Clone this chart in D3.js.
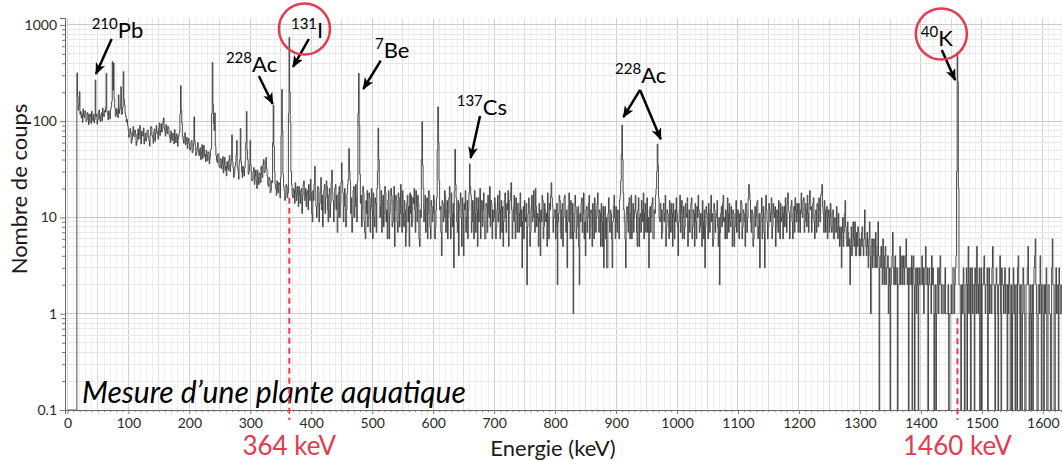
<!DOCTYPE html>
<html><head><meta charset="utf-8">
<script src="https://cdn.jsdelivr.net/npm/d3@7"></script>
<style>
html,body{margin:0;padding:0;background:#fff;}
svg{display:block;font-family:Lato,"Open Sans",sans-serif;}
</style></head><body>
<svg id="chart" width="1062" height="461"></svg>
<script>
// Gamma spectrum, counts per 1 keV channel, channel 0 centred on 0 keV
const channelWidthKeV = 1;
const counts000 = [0,0,0,0,0,0,0,0,0,0,0,0,0,0,0,0,
  317,180,130,145,202,118,126,108,118,97,134,115,109,128,121,99,104,123,117,92,
  98,119,113,95,127,108,101,118,96,104,268,112,118,93,104,122,131,106,99,115,
  122,101,137,118,112,129,124,140,314,126,119,103,128,117,106,132,141,160,415,210,
  402,170,138,112,117,135,126,109,188,121,132,145,228,118,119,140,327,168,147,121,
  112,98,104,90];
const counts100 = [82,68,71,84,76,59,64,77,88,70,69,81,74,56,61,73,83,65,72,90,
  66,58,79,71,70,85,58,66,75,62,67,80,81,69,63,55,72,88,86,71,
  68,59,77,83,62,74,90,79,74,65,84,96,71,80,94,77,83,99,108,85,
  79,70,92,81,74,88,86,72,68,60,79,66,63,75,73,58,82,69,60,74,
  71,55,66,72,78,120,234,130,96,70,64,59,70,76,57,63,68,52,61,66];
const counts200 = [58,50,52,61,63,47,49,58,111,62,55,44,47,53,60,49,44,51,53,40,
  48,57,41,46,56,43,45,38,50,44,39,48,47,36,42,50,52,120,409,150,
  95,80,122,55,44,39,37,46,45,34,33,41,40,32,36,43,29,35,42,31,
  34,27,38,33,31,39,44,30,35,40,72,38,33,26,28,34,37,45,63,33,
  31,25,36,40,84,38,30,26,34,29,27,33,38,60,126,50,40,28,30,35];
const counts300 = [63,35,29,24,25,30,33,22,27,31,24,20,31,26,22,29,28,23,34,28,
  26,36,40,29,30,38,42,32,27,22,21,26,25,18,19,24,23,60,147,55,
  30,22,20,17,24,19,18,23,22,16,26,70,214,80,28,21,19,15,17,22,
  21,16,18,120,743,200,96,30,22,17,16,20,19,14,23,18,15,21,18,13,
  21,17,14,19,20,11,17,22,24,15,16,20,13,18,19,12,22,17,15,25];
const counts400 = [18,11,9,19,15,22,34,19,13,10,13,21,20,9,14,18,26,12,17,8,
  12,19,22,11,16,24,21,12,9,17,20,10,14,23,31,18,15,9,13,20,
  22,12,17,7,10,18,21,10,14,23,37,24,18,9,13,20,17,8,12,18,
  22,25,52,30,24,11,16,7,10,19,21,10,13,22,16,9,24,120,314,90,
  28,14,17,8,12,21,18,9,7,6,15,11,19,8,10,18,16,7,13,20];
const counts500 = [12,6,18,10,8,16,14,7,20,30,85,40,22,10,13,19,7,15,17,8,
  11,21,18,9,12,6,15,19,6,11,14,20,17,8,9,15,21,5,12,17,
  15,9,7,18,16,8,11,22,13,7,19,11,8,15,12,5,7,14,17,9,
  13,5,18,11,17,8,9,16,14,20,12,7,19,13,9,17,14,6,5,12,
  10,40,99,35,20,9,12,17,7,14,16,6,11,19,17,8,6,15,13,9];
const counts600 = [11,17,15,6,8,12,16,50,141,60,24,12,13,7,4,15,14,9,10,19,
  17,7,12,15,6,11,16,21,10,6,18,11,8,14,3,19,51,22,16,9,
  7,15,4,12,14,18,10,5,16,11,4,14,12,19,7,10,15,6,12,18,
  36,21,17,7,9,15,13,6,19,11,7,16,12,5,16,9,11,20,6,12,
  15,8,12,18,9,6,6,14,13,7,17,11,10,21,8,15,14,6,12,9];
const counts700 = [10,16,14,6,8,12,17,9,11,19,6,12,15,7,13,5,9,15,18,10,
  7,14,12,19,5,11,15,18,23,12,6,9,13,17,9,6,16,11,7,14,
  14,7,11,18,8,12,3,9,13,6,15,10,9,14,2,8,11,16,13,5,
  7,12,17,9,10,19,12,7,20,13,8,11,10,5,14,9,4,12,9,17,
  15,6,8,14,12,9,11,5,18,10,6,14,12,17,23,16,13,7,10,12];
const counts800 = [12,6,8,14,2,9,11,17,15,7,6,12,14,5,10,16,17,10,7,12,
  3,9,13,18,9,6,15,11,6,14,1,7,11,17,13,6,8,12,13,5,
  2,11,9,14,16,7,11,18,6,9,4,12,13,7,10,14,17,6,8,12,
  11,5,14,9,6,16,12,7,10,14,18,10,7,12,11,5,14,9,5,13,
  3,11,13,6,10,3,3,11,16,9,7,12,11,6,3,9,13,17,10,6];
const counts900 = [13,9,7,12,11,6,15,17,24,45,91,40,18,12,9,6,3,11,13,9,
  7,14,16,6,11,17,6,9,14,7,10,12,17,11,7,5,12,16,5,10,
  11,7,15,12,9,18,6,11,14,7,11,16,7,10,3,12,13,7,10,14,
  16,6,6,12,11,17,20,30,58,35,16,10,9,14,12,6,7,12,14,9,
  11,17,5,8,12,11,9,6,15,12,7,14,11,5,14,10,6,12,9,16];
const counts1000 = [11,8,4,9,12,17,7,11,15,6,10,13,6,8,14,11,10,16,5,9,
  12,7,10,14,16,6,8,12,11,5,14,9,6,13,10,17,12,7,8,11,
  11,5,15,9,6,12,3,8,13,11,10,6,14,11,7,12,17,9,11,5,
  6,14,12,7,10,11,15,8,5,10,2,7,11,13,8,14,17,9,10,6,
  12,11,6,16,11,7,14,9,8,13,10,5,12,11,5,8,11,15,7,10];
const counts1100 = [12,7,6,11,9,15,14,6,8,12,11,9,5,14,12,7,10,16,22,18,
  15,9,7,12,11,5,6,11,13,8,10,14,15,6,8,11,3,9,11,16,
  6,10,13,7,3,11,17,12,9,6,8,14,12,9,11,16,6,8,14,11,
  10,13,5,8,12,9,7,15,11,6,14,9,10,13,6,11,13,8,16,11,
  7,14,18,12,11,6,10,13,15,9,6,11,13,7,16,12,9,14,11,7];
const counts1200 = [14,9,7,12,18,11,10,15,16,7,9,14,12,8,17,11,7,14,19,12,
  13,7,10,14,16,9,6,11,12,7,14,13,8,16,12,9,17,18,22,13,
  11,7,15,12,7,11,13,6,10,12,7,10,14,8,7,11,12,6,6,10,
  9,7,13,8,6,11,8,5,6,8,3,7,10,5,7,11,15,8,6,5,
  9,7,5,6,2,5,8,4,5,9,6,5,9,4,4,7,5,8,7,4];
const counts1300 = [6,4,5,7,8,5,4,6,12,6,5,4,7,5,3,6,9,4,1,5,
  6,3,4,6,5,3,7,4,3,5,9,4,0,3,4,5,3,2,6,3,
  2,4,5,2,3,3,4,1,2,3,0,2,3,4,7,3,2,3,4,2,
  3,3,0,2,2,3,5,2,3,4,2,3,4,2,3,4,6,3,2,3,
  0,2,3,3,2,4,0,3,4,2,0,2,3,1,2,3,0,2,3,2];
const counts1400 = [2,3,4,2,3,1,2,3,5,2,2,3,0,2,3,2,2,1,4,2,
  3,2,0,1,2,0,1,2,3,1,2,3,4,2,1,2,2,1,1,2,
  3,1,1,1,1,2,0,0,1,1,2,1,1,3,3,1,2,3,4,30,
  520,255,20,2,2,1,0,2,1,2,3,1,0,2,2,3,0,2,5,1,
  2,3,0,2,3,1,2,2,0,3,2,1,5,2,1,2,3,0,2,3];
const counts1500 = [0,2,2,3,4,2,1,2,2,3,0,2,3,1,2,2,1,3,5,2,
  2,1,0,2,3,2,1,0,2,2,4,1,0,3,2,2,1,2,3,1,
  2,2,0,2,1,3,2,0,0,2,0,1,3,2,1,0,2,2,0,3,
  4,2,1,0,2,2,0,1,3,2,1,0,0,2,2,3,5,2,0,1,
  2,0,1,2,0,2,3,4,6,2,1,0,0,2,2,1,4,2,0,2];
const counts1600 = [2,1,0,2,1,2,3,0,0,2,2,1,1,0,0,3,6,2,2,0,0,2,3,1,1,2,0,3,2,1,1,2];
const counts = [].concat(counts000, counts100, counts200, counts300, counts400, counts500,
  counts600, counts700, counts800, counts900, counts1000, counts1100, counts1200,
  counts1300, counts1400, counts1500, counts1600);

const xTickValues = d3.range(0, 1601, 100);
const yTickValues = [0.1, 1, 10, 100, 1000];
const yTickLabels = ["0.1", "1", "10", "100", "1000"];

// Highlighted lines: energy, counts level where the dashed line starts, caption
const markerEnergies = [364, 1460];
const markerTops = [16, 0.9];
const markerLabels = ["364 keV", "1460 keV"];

// Nuclide labels: mass number, symbol, label anchor (keV, counts), arrows (from -> to)
const nuclides = [
  {mass: "210", sym: "Pb", at: [39.7, 731], arrows: [[[72.5, 714], [46.8, 309]]]},
  {mass: "228", sym: "Ac", at: [260, 324], arrows: [[[314, 295], [336.7, 151]]]},
  {mass: "131", sym: "I",  at: [366.7, 731], arrows: [[[396, 714], [370, 366]]]},
  {mass: "7",   sym: "Be", at: [504.5, 453], arrows: [[[513.9, 425], [485.3, 216]]]},
  {mass: "137", sym: "Cs", at: [638.6, 116], arrows: [[[676.8, 113], [661.5, 41.5]]]},
  {mass: "228", sym: "Ac", at: [898.3, 249], arrows: [[[939.3, 211], [912, 110]], [[939.3, 211], [973.3, 64.9]]]},
  {mass: "40",  sym: "K",  at: [1399.8, 604], arrows: [[[1434.3, 549], [1456.1, 268]]]}
];
// Circled nuclides: centre (keV, counts)
const circled = [[388.8, 907], [1433.6, 805]];

const plot = {left: 65, right: 1062, top: 18, bottom: 410};
const red = "#e63a4f";

const svg = d3.select("#chart");
const x = d3.scaleLinear().domain([-4, 1631.5]).range([plot.left, plot.right]);
const y = d3.scaleLog().domain([0.1, 1180]).range([plot.bottom, plot.top]);

// Grid
const grid = svg.append("g");
d3.range(0, 1631, 10).forEach(e => {
  const col = e % 100 === 0 ? "#cfcfcf" : (e % 50 === 0 ? "#dcdcdc" : "#efefef");
  grid.append("line").attr("x1", x(e)).attr("x2", x(e))
    .attr("y1", plot.top).attr("y2", plot.bottom)
    .attr("stroke", col).attr("stroke-width", 1).attr("shape-rendering", "crispEdges");
});
const minorY = [];
[0.1, 1, 10, 100, 1000].forEach(d => { for (let k = 2; k <= 9; k++) if (d * k < 1180) minorY.push(d * k); });
minorY.forEach(v => grid.append("line").attr("x1", plot.left).attr("x2", plot.right)
  .attr("y1", y(v)).attr("y2", y(v)).attr("stroke", "#e8e8e8").attr("shape-rendering", "crispEdges"));
yTickValues.forEach(v => grid.append("line").attr("x1", plot.left).attr("x2", plot.right)
  .attr("y1", y(v)).attr("y2", y(v)).attr("stroke", "#cccccc").attr("shape-rendering", "crispEdges"));

// Spectrum (histogram steps; empty channels sit on the lower edge)
const pts = counts.map((c, i) => ({e: i * channelWidthKeV, c}));
const line = d3.line()
  .x(d => x(d.e))
  .y(d => d.c > 0 ? y(d.c) : y(0.1))
  .curve(d3.curveStep);
svg.append("path").datum(pts).attr("d", line)
  .attr("fill", "none").attr("stroke", "#3a3a3a").attr("stroke-width", 0.9);

// Axes
const axL = svg.append("g").attr("transform", `translate(${plot.left},0)`)
  .call(d3.axisLeft(y).tickValues(yTickValues).tickFormat((d, i) => yTickLabels[i]).tickSize(5).tickPadding(3));
svg.append("g").attr("transform", `translate(${plot.left},0)`)
  .call(d3.axisLeft(y).tickValues(minorY).tickFormat("").tickSize(3))
  .call(g => g.select(".domain").remove());
const axB = svg.append("g").attr("transform", `translate(0,${plot.bottom})`)
  .call(d3.axisBottom(x).tickValues(xTickValues).tickFormat(d3.format("d")).tickSize(4).tickPadding(4));
svg.append("g").attr("transform", `translate(0,${plot.bottom})`)
  .call(d3.axisBottom(x).tickValues(d3.range(0, 1631, 10).filter(e => e % 100)).tickFormat("").tickSize(2))
  .call(g => g.select(".domain").remove());
svg.selectAll(".domain").attr("stroke", "#666");
svg.selectAll(".tick line").attr("stroke", "#777");
axL.selectAll("text").attr("font-size", 14).attr("fill", "#2a2a2a").attr("font-family", "Lato");
axB.selectAll("text").attr("font-size", 14).attr("fill", "#2a2a2a").attr("font-family", "Lato");

// Axis titles
svg.append("text").attr("x", 553).attr("y", 456).attr("text-anchor", "middle")
  .attr("font-size", 22).attr("fill", "#1a1a1a").text("Energie (keV)");
svg.append("text").attr("transform", "translate(27,189) rotate(-90)").attr("text-anchor", "middle")
  .attr("font-size", 22).attr("fill", "#1a1a1a").text("Nombre de coups");

// Sample caption
svg.append("text").attr("x", 82).attr("y", 403).attr("font-size", 30).attr("font-style", "italic")
  .attr("fill", "#000").text("Mesure d\u2019une plante aquatique");

// Marker lines and captions
markerEnergies.forEach((e, i) => {
  svg.append("line").attr("x1", x(e)).attr("x2", x(e))
    .attr("y1", y(markerTops[i])).attr("y2", plot.bottom + 10)
    .attr("stroke", red).attr("stroke-width", 2).attr("stroke-dasharray", "6,4");
  svg.append("text").attr("x", x(e)).attr("y", 455).attr("text-anchor", "middle")
    .attr("font-size", 26).attr("fill", red).text(markerLabels[i]);
});

// Arrow head
svg.append("defs").append("marker").attr("id", "arrow")
  .attr("viewBox", "0 0 12 10").attr("refX", 11).attr("refY", 5)
  .attr("markerWidth", 12).attr("markerHeight", 10).attr("markerUnits", "userSpaceOnUse")
  .attr("orient", "auto")
  .append("path").attr("d", "M0,0 L12,5 L0,10 L3,5 Z").attr("fill", "#000");

// Nuclide labels
nuclides.forEach(n => {
  const t = svg.append("text").attr("x", x(n.at[0])).attr("y", y(n.at[1]))
    .attr("font-size", 22).attr("fill", "#000");
  t.append("tspan").attr("font-size", 15).attr("dy", -9).text(n.mass);
  t.append("tspan").attr("dy", 9).text(n.sym);
  n.arrows.forEach(([a, b]) => {
    svg.append("line").attr("x1", x(a[0])).attr("y1", y(a[1]))
      .attr("x2", x(b[0])).attr("y2", y(b[1]))
      .attr("stroke", "#000").attr("stroke-width", 2.5).attr("marker-end", "url(#arrow)");
  });
});

// Circles around the two nuclides of interest
circled.forEach(c => {
  svg.append("circle").attr("cx", x(c[0])).attr("cy", y(c[1])).attr("r", 25.5)
    .attr("fill", "none").attr("stroke", red).attr("stroke-width", 2.5);
});
</script>
</body></html>
